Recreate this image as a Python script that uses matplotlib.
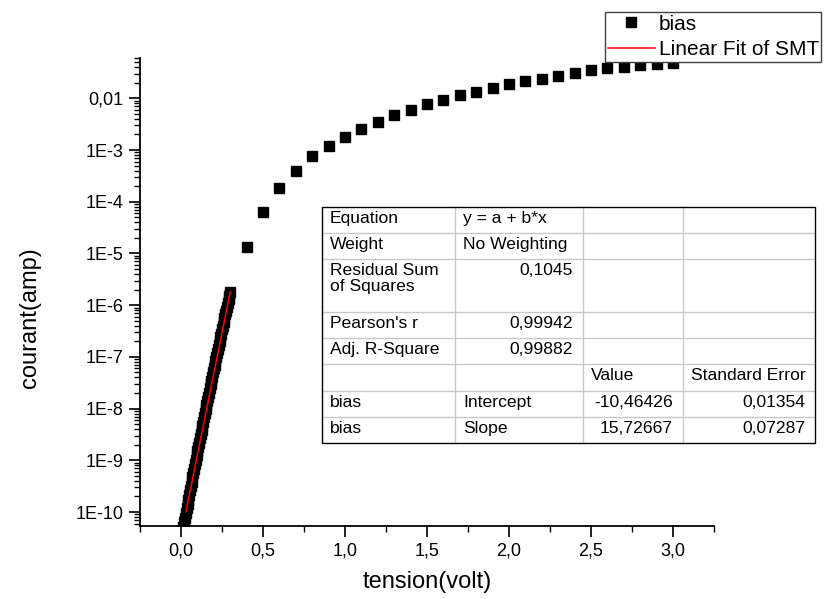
import numpy as np
import matplotlib
matplotlib.use('Agg')
import matplotlib.pyplot as plt
from matplotlib.lines import Line2D
from matplotlib.patches import Rectangle
from matplotlib.ticker import LogLocator, NullFormatter

plt.rcParams['font.family'] = ['Liberation Sans', 'DejaVu Sans']

# ---------------- data ----------------
x_low = [0.000, 0.005, 0.010, 0.015, 0.020, 0.025, 0.030, 0.035, 0.040, 0.045,
         0.050, 0.055, 0.060, 0.065, 0.070, 0.075, 0.080, 0.085, 0.090, 0.095,
         0.100, 0.105, 0.110, 0.115, 0.120, 0.125, 0.130, 0.135, 0.140, 0.145,
         0.150, 0.155, 0.160, 0.165, 0.170, 0.175, 0.180, 0.185, 0.190, 0.195,
         0.200, 0.205, 0.210, 0.215, 0.220, 0.225, 0.230, 0.235, 0.240, 0.245,
         0.250, 0.255, 0.260, 0.265, 0.270, 0.275, 0.280, 0.285, 0.290, 0.295,
         0.300]
log10_I_low = [-10.56, -10.47, -10.38, -10.29, -10.20, -10.11, -10.02, -9.93, -9.85, -9.76,
               -9.67, -9.58, -9.50, -9.41, -9.33, -9.24, -9.16, -9.07, -8.99, -8.90,
               -8.82, -8.74, -8.66, -8.57, -8.49, -8.41, -8.33, -8.25, -8.17, -8.08,
               -8.00, -7.93, -7.85, -7.77, -7.69, -7.61, -7.53, -7.46, -7.38, -7.30,
               -7.22, -7.15, -7.07, -7.00, -6.92, -6.85, -6.77, -6.70, -6.62, -6.55,
               -6.47, -6.40, -6.32, -6.25, -6.18, -6.11, -6.04, -5.96, -5.89, -5.82,
               -5.75]
x_high = [0.4, 0.5, 0.6, 0.7, 0.8, 0.9, 1.0, 1.1, 1.2, 1.3, 1.4, 1.5, 1.6, 1.7,
          1.8, 1.9, 2.0, 2.1, 2.2, 2.3, 2.4, 2.5, 2.6, 2.7, 2.8, 2.9, 3.0]
I_high = [1.35e-5, 6.2e-5, 1.82e-4, 3.9e-4, 7.6e-4, 1.2e-3, 1.82e-3, 2.57e-3, 3.55e-3,
          4.68e-3, 5.9e-3, 7.6e-3, 9.3e-3, 0.0115, 0.0135, 0.0158, 0.0186, 0.0214,
          0.024, 0.0275, 0.031, 0.0347, 0.038, 0.0407, 0.0447, 0.0468, 0.049]

fit_intercept = -10.46426
fit_slope = 15.72667
fit_x_range = [0.03, 0.30]

x_ticks = [0.0, 0.5, 1.0, 1.5, 2.0, 2.5, 3.0]
x_ticklabels = ['0,0', '0,5', '1,0', '1,5', '2,0', '2,5', '3,0']
y_ticks = [1e-10, 1e-9, 1e-8, 1e-7, 1e-6, 1e-5, 1e-4, 1e-3, 1e-2]
y_ticklabels = ['1E-10', '1E-9', '1E-8', '1E-7', '1E-6', '1E-5', '1E-4', '1E-3', '0,01']

table_rows = [
    ['Equation', 'y = a + b*x', '', ''],
    ['Weight', 'No Weighting', '', ''],
    ['Residual Sum\nof Squares', '0,1045', '', ''],
    ["Pearson's r", '0,99942', '', ''],
    ['Adj. R-Square', '0,99882', '', ''],
    ['', '', 'Value', 'Standard Error'],
    ['bias', 'Intercept', '-10,46426', '0,01354'],
    ['bias', 'Slope', '15,72667', '0,07287'],
]
table_align = [
    ['l', 'l', 'l', 'l'],
    ['l', 'l', 'l', 'l'],
    ['l', 'r', 'l', 'l'],
    ['l', 'r', 'l', 'l'],
    ['l', 'r', 'l', 'l'],
    ['l', 'l', 'l', 'l'],
    ['l', 'l', 'r', 'r'],
    ['l', 'l', 'r', 'r'],
]
row_units = [1, 1, 2, 1, 1, 1, 1, 1]

# ---------------- figure ----------------
W, H = 830, 599
fig = plt.figure(figsize=(W / 100, H / 100), dpi=100)
ax = fig.add_axes([140 / W, 1 - 526 / H, (714 - 140) / W, (526 - 58) / H])

x_all = list(x_low) + list(x_high)
I_all = list(10.0 ** np.array(log10_I_low)) + list(I_high)
ax.plot(x_all, I_all, linestyle='none', marker='s', markersize=6.6,
        color='black', label='bias')
fx = np.array(fit_x_range)
ax.plot(fx, 10.0 ** (fit_intercept + fit_slope * fx), color='red', lw=1.1,
        label='Linear Fit of SMT')

ax.set_yscale('log')
ax.set_xlim(-0.25, 3.25)
ax.set_ylim(10 ** -10.27, 10 ** -1.22)

ax.set_xticks(x_ticks)
ax.set_xticklabels(x_ticklabels)
ax.set_xticks(np.arange(-0.25, 3.26, 0.5), minor=True)
ax.set_yticks(y_ticks)
ax.set_yticklabels(y_ticklabels)
ax.yaxis.set_minor_locator(LogLocator(base=10, subs=np.arange(2, 10), numticks=50))
ax.yaxis.set_minor_formatter(NullFormatter())

for s in ['top', 'right']:
    ax.spines[s].set_visible(False)
for s in ['left', 'bottom']:
    ax.spines[s].set_linewidth(1.3)

ax.tick_params(which='major', direction='out', length=8, width=1.2, labelsize=13, pad=4)
ax.tick_params(which='minor', direction='out', length=4, width=1.0)

fig.text(427 / W, 1 - 582 / H, 'tension(volt)', ha='center', va='center', fontsize=17)
fig.text(30 / W, 1 - 318 / H, 'courant(amp)', ha='center', va='center', fontsize=17, rotation=90)

# ---------------- table ----------------
def P(x, y):
    return (x / W, 1 - y / H)

col_edges = [322, 455, 583, 683, 815]
top, bottom = 207, 443
unit = (bottom - top) / sum(row_units)
row_edges = [top]
for u in row_units:
    row_edges.append(row_edges[-1] + u * unit)

fig.add_artist(Rectangle(P(col_edges[0], bottom), (col_edges[-1] - col_edges[0]) / W,
                         (bottom - top) / H, transform=fig.transFigure,
                         facecolor='white', edgecolor='none', zorder=3))
grid_c = '#c8c8c8'
for y in row_edges[1:-1]:
    fig.add_artist(Line2D([col_edges[0] / W, col_edges[-1] / W], [1 - y / H] * 2,
                          transform=fig.transFigure, color=grid_c, lw=1, zorder=4))
for x in col_edges[1:-1]:
    fig.add_artist(Line2D([x / W] * 2, [1 - top / H, 1 - bottom / H],
                          transform=fig.transFigure, color=grid_c, lw=1, zorder=4))
fig.add_artist(Rectangle(P(col_edges[0], bottom), (col_edges[-1] - col_edges[0]) / W,
                         (bottom - top) / H, transform=fig.transFigure,
                         facecolor='none', edgecolor='black', lw=1.0, zorder=5))

for r, row in enumerate(table_rows):
    y0 = row_edges[r]
    for c, txt in enumerate(row):
        if not txt:
            continue
        if table_align[r][c] == 'l':
            xx, ha = col_edges[c] + 8, 'left'
        else:
            xx, ha = col_edges[c + 1] - 10, 'right'
        fig.text(xx / W, 1 - (y0 + 4) / H, txt, ha=ha, va='top', fontsize=12.6,
                 linespacing=1.05, zorder=6)

# ---------------- legend ----------------
h, l = ax.get_legend_handles_labels()
leg = fig.legend(h, l, loc='upper left', bbox_to_anchor=(605 / W, 1 - 12 / H),
                 frameon=True, fancybox=False, fontsize=15, borderpad=0.12,
                 labelspacing=0.33, handlelength=2.3, handletextpad=0.15,
                 borderaxespad=0, framealpha=1)
leg.get_frame().set_edgecolor('#404040')
leg.get_frame().set_linewidth(1.0)

fig.savefig('out.png', dpi=100)
